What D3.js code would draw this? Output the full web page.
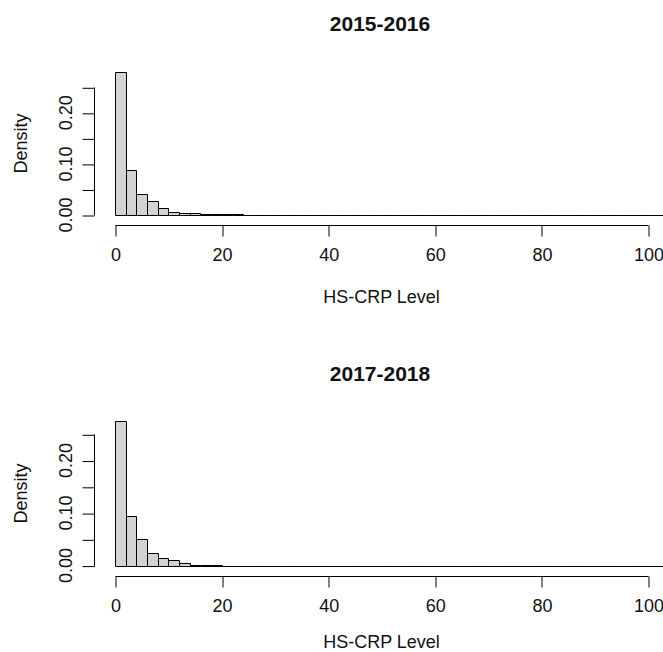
<!DOCTYPE html>
<html>
  <head>
    <style>
      body { margin: 0; background: #fff; }
      text { font-family: "Liberation Sans", Arial, sans-serif; fill: #111; }
      .bar { fill: #d3d3d3; stroke: #000; stroke-width: 1px; }
      .axis path, .axis line { stroke: #000; stroke-width: 1px; fill: none; }
    </style>
    <script src="https://d3js.org/d3.v7.min.js"></script>
  </head>
  <body>
    <svg class="chart"></svg>

    <script>
      // histogram bins of width 2 starting at 0
      const binWidth = 2;
      const xTicks = [0, 20, 40, 60, 80, 100];
      const yTicks = [0, 0.05, 0.10, 0.15, 0.20, 0.25];
      const yLabels = [0, 0.10, 0.20];

      const titles = ['2015-2016', '2017-2018'];

      const density1516 = [
        0.28, 0.089, 0.041, 0.0265, 0.0135, 0.0068, 0.004, 0.004, 0.0018, 0.0015,
        0.0015, 0.0015, 0, 0, 0, 0, 0, 0, 0, 0,
        0, 0, 0, 0, 0, 0, 0, 0, 0, 0,
        0, 0, 0, 0, 0, 0, 0, 0, 0, 0,
        0, 0, 0, 0, 0, 0, 0, 0, 0, 0,
        0, 0
      ];
      const density1718 = [
        0.275, 0.0945, 0.05, 0.0247, 0.0142, 0.0106, 0.0055, 0.002, 0.0018, 0.0015,
        0, 0, 0, 0, 0, 0, 0, 0, 0, 0,
        0, 0, 0, 0, 0, 0, 0, 0, 0, 0,
        0, 0, 0, 0, 0, 0, 0, 0, 0, 0,
        0, 0, 0, 0, 0, 0, 0, 0, 0, 0,
        0, 0
      ];

      const width = 663;
      const height = 652;

      const svg = d3.select('svg')
        .attr('width', width)
        .attr('height', height);

      const x = d3.scaleLinear().domain([0, 100]).range([115, 648]);

      const panels = [
        { title: titles[0], values: density1516, y0: 215, y25: 87.3, xlab: 303.3, main: 30.7 },
        { title: titles[1], values: density1718, y0: 565.6, y25: 434.3, xlab: 647.5, main: 380.7 }
      ];

      panels.forEach(p => {
        const g = svg.append('g');
        const y = d3.scaleLinear().domain([0, 0.25]).range([p.y0, p.y25]);

        // bars as closed outlines so empty bins still show on the baseline
        g.selectAll('path.bar')
          .data(p.values)
          .join('path')
          .attr('class', 'bar')
          .attr('d', (d, i) => {
            const x0 = Math.round(x(i * binWidth)) + 0.5;
            const x1 = Math.round(x((i + 1) * binWidth)) + 0.5;
            const yb = Math.round(y(0)) + 0.5;
            const yt = Math.round(y(d)) + 0.5;
            return `M${x0},${yb}V${yt}H${x1}V${yb}Z`;
          });

        // x axis
        const xAxis = g.append('g')
          .attr('class', 'axis')
          .attr('transform', `translate(0.5,${Math.round(p.y0 + 10) + 0.5})`)
          .call(d3.axisBottom(x).tickValues(xTicks).tickSize(11).tickSizeOuter(0));
        xAxis.selectAll('line').attr('transform', (d) => `translate(${Math.round(x(d)) - x(d)},0)`);
        xAxis.select('.domain').attr('d', `M${Math.round(x(0))},0H${Math.round(x(100))}`);
        xAxis.selectAll('text')
          .attr('font-size', '18px')
          .attr('fill', '#111')
          .attr('dy', null)
          .attr('y', 35.5);

        // y axis
        const yAxis = g.append('g')
          .attr('class', 'axis')
          .attr('transform', 'translate(94.5,0.5)')
          .call(d3.axisLeft(y).tickValues(yTicks).tickSize(12).tickSizeOuter(0).tickFormat(''));
        yAxis.select('.domain').attr('d', `M0,${Math.round(y(0))}V${Math.round(y(0.25))}`);

        g.selectAll('.ylab')
          .data(yLabels)
          .join('text')
          .attr('class', 'ylab')
          .attr('font-size', '18px')
          .attr('text-anchor', 'middle')
          .attr('transform', d => `translate(72,${y(d)}) rotate(-90)`)
          .text(d => d3.format('.2f')(d));

        const yMid = y(d3.max(p.values) / 2);
        g.append('text')
          .attr('font-size', '18px')
          .attr('text-anchor', 'middle')
          .attr('transform', `translate(27,${yMid}) rotate(-90)`)
          .text('Density');

        g.append('text')
          .attr('font-size', '18px')
          .attr('text-anchor', 'middle')
          .attr('x', x(50))
          .attr('y', p.xlab)
          .text('HS-CRP Level');

        g.append('text')
          .attr('font-size', '21px')
          .attr('font-weight', 'bold')
          .attr('text-anchor', 'middle')
          .attr('x', 380)
          .attr('y', p.main)
          .text(p.title);
      });
    </script>
  </body>
</html>
